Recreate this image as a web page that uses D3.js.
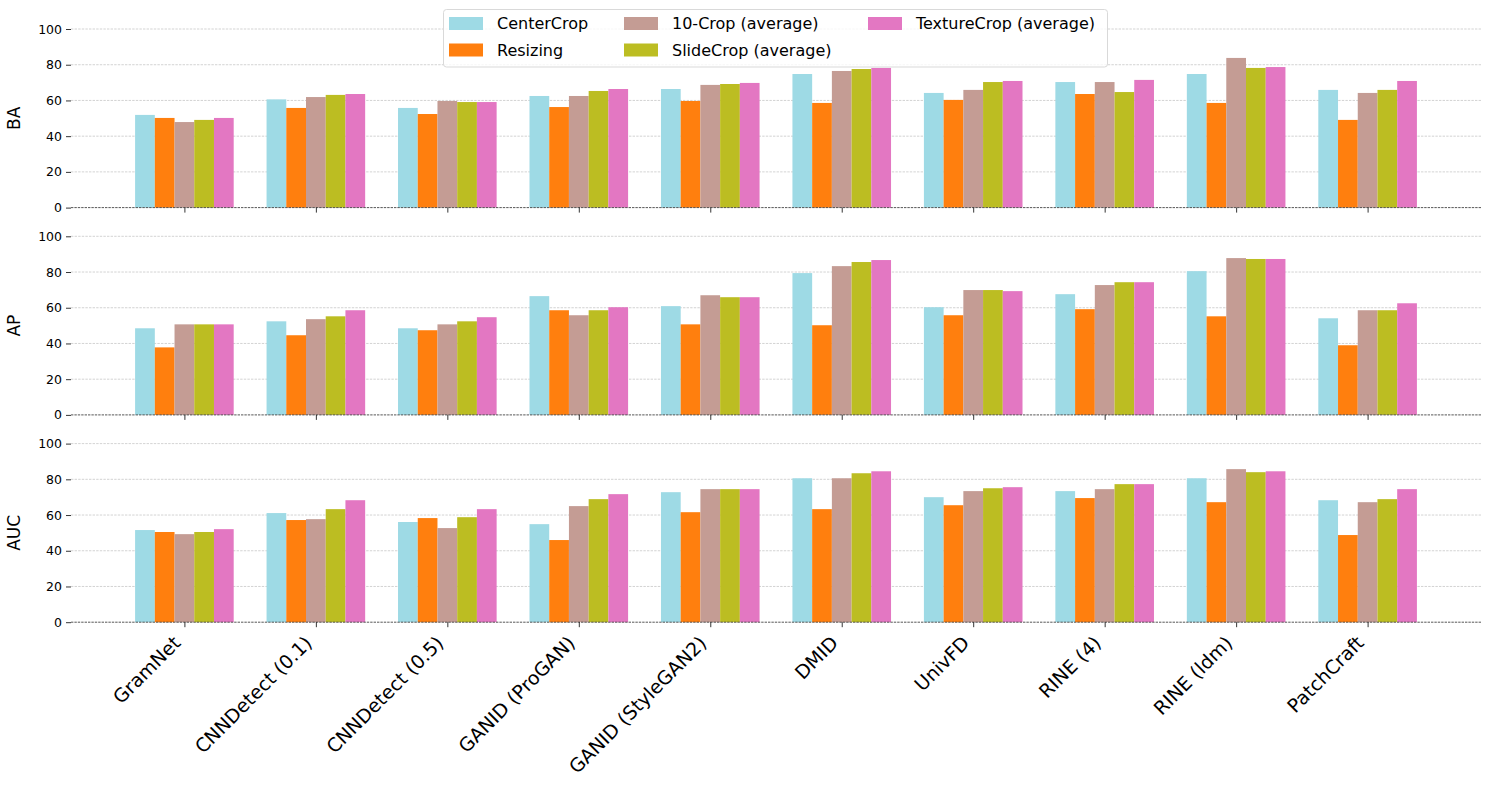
<!DOCTYPE html>
<html>
<head>
<meta charset="utf-8">
<script src="https://cdn.jsdelivr.net/npm/d3@7"></script>
<style>
  body { margin: 0; background: #fff; }
  text { font-family: "DejaVu Sans", sans-serif; fill: #000; }
</style>
</head>
<body>
<svg width="1489" height="789"></svg>
<script>
// detectors on the x axis
var methods = ["GramNet", "CNNDetect (0.1)", "CNNDetect (0.5)", "GANID (ProGAN)", "GANID (StyleGAN2)",
               "DMID", "UnivFD", "RINE (4)", "RINE (ldm)", "PatchCraft"];
var strategies = ["CenterCrop", "Resizing", "10-Crop (average)", "SlideCrop (average)", "TextureCrop (average)"];
var colors = ["#9edae5", "#ff7f0e", "#c49c94", "#bcbd22", "#e377c2"];
var metrics = ["BA", "AP", "AUC"];
var yTicks = [0, 20, 40, 60, 80, 100];

// values per strategy, one entry per method
var ba_center  = [51.9, 60.6, 55.8, 62.5, 66.4, 74.8, 64.2, 70.3, 74.8, 65.9];
var ba_resize  = [50.2, 55.8, 52.4, 56.3, 59.7, 58.6, 60.3, 63.6, 58.6, 49.1];
var ba_tencrop = [47.9, 61.9, 59.7, 62.5, 68.7, 76.5, 65.9, 70.3, 83.8, 64.2];
var ba_slide   = [49.1, 63.1, 59.1, 65.3, 69.2, 77.6, 70.3, 64.7, 78.2, 65.9];
var ba_texture = [50.2, 63.6, 59.1, 66.4, 69.8, 78.2, 70.9, 71.5, 78.7, 70.9];

var ap_center  = [48.5, 52.4, 48.5, 66.5, 60.9, 79.4, 60.3, 67.6, 80.5, 54.1];
var ap_resize  = [37.8, 44.6, 47.4, 58.6, 50.7, 50.2, 55.8, 59.2, 55.2, 39.0];
var ap_tencrop = [50.7, 53.6, 50.7, 55.8, 67.0, 83.3, 69.9, 72.7, 87.8, 58.6];
var ap_slide   = [50.7, 55.2, 52.4, 58.6, 65.9, 85.6, 69.9, 74.3, 87.3, 58.6];
var ap_texture = [50.7, 58.6, 54.7, 60.3, 65.9, 86.7, 69.3, 74.3, 87.3, 62.5];

var auc_center  = [51.6, 61.1, 56.1, 54.9, 72.8, 80.6, 70.0, 73.4, 80.6, 68.3];
var auc_resize  = [50.5, 57.2, 58.3, 46.0, 61.6, 63.3, 65.5, 69.5, 67.2, 48.8];
var auc_tencrop = [49.3, 57.7, 52.7, 65.0, 74.5, 80.6, 73.4, 74.5, 85.7, 67.2];
var auc_slide   = [50.5, 63.3, 58.8, 68.9, 74.5, 83.4, 75.0, 77.3, 84.0, 68.9];
var auc_texture = [52.1, 68.3, 63.3, 71.7, 74.5, 84.5, 75.6, 77.3, 84.5, 74.5];

var panels = [
  [ba_center, ba_resize, ba_tencrop, ba_slide, ba_texture],
  [ap_center, ap_resize, ap_tencrop, ap_slide, ap_texture],
  [auc_center, auc_resize, auc_tencrop, auc_slide, auc_texture]
];

var svg = d3.select("svg");
var left = 71, right = 1481;
var barW = 0.15;
var x = d3.scaleLinear().domain([-0.8625, 9.8625]).range([left, right]);

panels.forEach(function(series, p) {
  var top = 29 + 207.3 * p;
  var y = d3.scaleLinear().domain([0, 100]).range([top + 178.6, top]);
  var g = svg.append("g");

  // grid
  g.selectAll(".grid").data(yTicks.filter(function(t) { return t > 0; }))
    .enter().append("line")
      .attr("x1", left).attr("x2", right)
      .attr("y1", function(d) { return y(d); }).attr("y2", function(d) { return y(d); })
      .attr("stroke", "#c8c8c8").attr("stroke-width", 0.8)
      .attr("stroke-dasharray", "2.4,1.2");

  // bars
  series.forEach(function(vals, s) {
    g.selectAll(".bar" + s).data(vals).enter().append("rect")
      .attr("x", function(d, i) { return x(i + (s - 2) * barW - barW / 2); })
      .attr("width", x(barW) - x(0))
      .attr("y", function(d) { return y(d); })
      .attr("height", function(d) { return y(0) - y(d); })
      .attr("fill", colors[s]);
  });

  // zero line
  g.append("line")
    .attr("x1", left).attr("x2", right)
    .attr("y1", y(0)).attr("y2", y(0))
    .attr("stroke", "#444").attr("stroke-width", 0.9)
    .attr("stroke-dasharray", "2.4,1");

  // y axis
  var ya = g.append("g")
    .attr("transform", "translate(" + left + ",0)")
    .call(d3.axisLeft(y).tickValues(yTicks).tickSize(5).tickPadding(4));
  ya.select(".domain").remove();
  ya.selectAll("text").style("font-size", "12.5px").style("font-family", "DejaVu Sans");
  ya.selectAll("line").attr("stroke", "#000").attr("stroke-width", 0.8);

  // x axis ticks
  var xa = g.append("g")
    .attr("transform", "translate(0," + y(0) + ")")
    .call(d3.axisBottom(x).tickValues(d3.range(methods.length)).tickSize(5)
      .tickFormat(function(i) { return p == 2 ? methods[i] : ""; }));
  xa.select(".domain").remove();
  xa.selectAll("line").attr("stroke", "#000").attr("stroke-width", 0.8);
  if (p == 2) {
    xa.selectAll("text")
      .style("font-size", "19px").style("font-family", "DejaVu Sans")
      .attr("text-anchor", "end")
      .attr("transform", "translate(-3,22) rotate(-45)")
      .attr("x", 0).attr("y", 0).attr("dy", "0");
  }

  // y label
  g.append("text")
    .attr("transform", "translate(20," + y(50) + ") rotate(-90)")
    .attr("text-anchor", "middle")
    .style("font-size", "17px")
    .text(metrics[p]);
});

// legend
var legend = svg.append("g");
legend.append("rect")
  .attr("x", 443.5).attr("y", 9.5).attr("width", 664).attr("height", 57.5)
  .attr("rx", 3).attr("fill", "#fff").attr("fill-opacity", 0.8)
  .attr("stroke", "#d9d9d9").attr("stroke-width", 1);
var colX = [449, 624, 868];
strategies.forEach(function(name, i) {
  var cx = colX[Math.floor(i / 2)], cy = i % 2 == 0 ? 23.5 : 50;
  legend.append("rect").attr("x", cx).attr("y", cy - 6.5).attr("width", 34).attr("height", 13)
    .attr("fill", colors[i]);
  legend.append("text").attr("x", cx + 48).attr("y", cy).attr("dy", "0.35em")
    .style("font-size", "16px").text(name);
});
</script>
</body>
</html>
